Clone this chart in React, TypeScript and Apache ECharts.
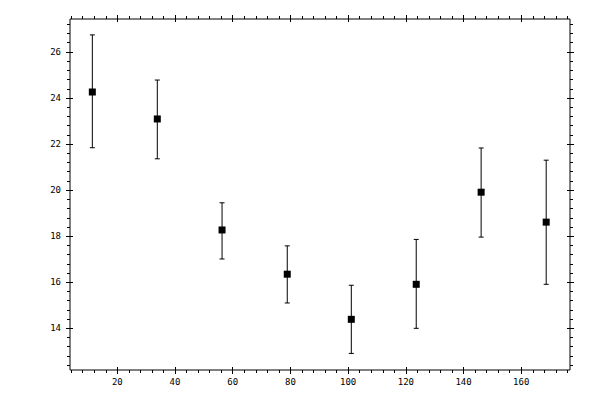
import React, { useEffect, useRef } from "react";
import * as echarts from "echarts";

// Data
const xValues = [11.34, 33.86, 56.3, 78.9, 101.1, 123.6, 146.1, 168.65];
const yValues = [24.26, 23.09, 18.27, 16.35, 14.39, 15.91, 19.91, 18.61];
const yLow = [21.84, 21.36, 17.01, 15.1, 12.91, 14.0, 17.96, 15.91];
const yHigh = [26.74, 24.78, 19.45, 17.58, 15.87, 17.86, 21.83, 21.3];

// Tick labels
const xMajorTicks = [20, 40, 60, 80, 100, 120, 140, 160];
const yMajorTicks = [14, 16, 18, 20, 22, 24, 26];

const X_MIN = 3.6;
const X_MAX = 176.9;
const Y_MIN = 12.19;
const Y_MAX = 27.43;

function minorTicks(from: number, to: number, step: number, majors: number[]) {
  const out: number[] = [];
  const n = Math.round((to - from) / step);
  for (let i = 0; i <= n; i++) {
    const v = Math.round((from + i * step) * 1000) / 1000;
    if (!majors.some((m) => Math.abs(m - v) < 1e-6)) out.push(v);
  }
  return out;
}

const xMinorTicks = minorTicks(4, 176, 4, xMajorTicks);
const yMinorTicks = minorTicks(12.4, 27.2, 0.4, yMajorTicks);

const labelStyle = {
  color: "#000",
  fontFamily: "DejaVu Sans Mono",
  fontSize: 9,
};

function mkAxis(
  kind: "x" | "y",
  position: string,
  values: number[],
  len: number,
  inside: boolean,
  labels: boolean
) {
  return {
    type: "value",
    position,
    min: kind === "x" ? X_MIN : Y_MIN,
    max: kind === "x" ? X_MAX : Y_MAX,
    axisLine: { show: false, onZero: false },
    splitLine: { show: false },
    axisTick: {
      show: true,
      customValues: values,
      length: len,
      inside,
      lineStyle: { color: "#000", width: 1 },
    },
    axisLabel: labels
      ? {
          show: true,
          customValues: values,
          margin: kind === "x" ? 7 : 9,
          ...labelStyle,
        }
      : { show: false },
  };
}

export default function App() {
  const ref = useRef<HTMLDivElement>(null);

  useEffect(() => {
    if (!ref.current) return;
    const chart = echarts.init(ref.current, undefined, { renderer: "svg" });

    const points = xValues.map((x, i) => [x, yValues[i]]);
    const bars = xValues.map((x, i) => [x, yLow[i], yHigh[i]]);

    const xAxes = [
      mkAxis("x", "bottom", xMajorTicks, 4, false, true),
      mkAxis("x", "bottom", xMajorTicks, 3, true, false),
      mkAxis("x", "bottom", xMinorTicks, 3, false, false),
      mkAxis("x", "top", xMajorTicks, 4, false, false),
      mkAxis("x", "top", xMajorTicks, 3, true, false),
      mkAxis("x", "top", xMinorTicks, 3, false, false),
    ];
    const yAxes = [
      mkAxis("y", "left", yMajorTicks, 4, false, true),
      mkAxis("y", "left", yMajorTicks, 3, true, false),
      mkAxis("y", "left", yMinorTicks, 3, false, false),
      mkAxis("y", "right", yMajorTicks, 4, false, false),
      mkAxis("y", "right", yMajorTicks, 3, true, false),
      mkAxis("y", "right", yMinorTicks, 3, false, false),
    ];

    chart.setOption({
      animation: false,
      backgroundColor: "#fff",
      grid: {
        left: 70,
        right: 30,
        top: 19,
        bottom: 30,
        show: true,
        borderColor: "#000",
        borderWidth: 1,
        backgroundColor: "transparent",
      },
      xAxis: xAxes,
      yAxis: yAxes,
      series: [
        {
          type: "custom",
          xAxisIndex: 0,
          yAxisIndex: 0,
          data: bars,
          encode: { x: 0, y: [1, 2] },
          renderItem: (params: any, api: any) => {
            const x = api.value(0);
            const lo = api.coord([x, api.value(1)]);
            const hi = api.coord([x, api.value(2)]);
            const w = 2.5;
            const style = { stroke: "#000", lineWidth: 1 };
            return {
              type: "group",
              children: [
                { type: "line", shape: { x1: lo[0], y1: lo[1], x2: hi[0], y2: hi[1] }, style },
                { type: "line", shape: { x1: hi[0] - w, y1: hi[1], x2: hi[0] + w, y2: hi[1] }, style },
                { type: "line", shape: { x1: lo[0] - w, y1: lo[1], x2: lo[0] + w, y2: lo[1] }, style },
              ],
            };
          },
        },
        {
          type: "scatter",
          xAxisIndex: 0,
          yAxisIndex: 0,
          data: points,
          symbol: "rect",
          symbolSize: 7,
          itemStyle: { color: "#000", opacity: 1 },
        },
      ],
    });

    return () => chart.dispose();
  }, []);

  return (
    <div
      ref={ref}
      style={{ position: "fixed", left: 0, top: 0, width: 600, height: 400, background: "#fff" }}
    />
  );
}
